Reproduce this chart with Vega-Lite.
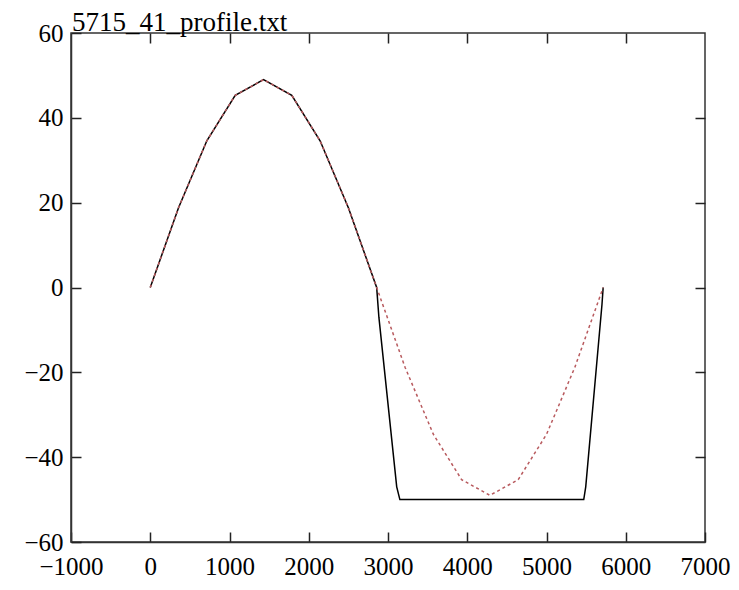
{
  "$schema": "https://vega.github.io/schema/vega-lite/v6.json",
  "width": 634,
  "height": 509,
  "autosize": {"type": "none"},
  "padding": {"left": 71, "top": 33, "right": 34, "bottom": 48},
  "background": "white",
  "title": {"text": "5715_41_profile.txt", "anchor": "start", "frame": "group", "font": "Liberation Serif", "fontSize": 27, "fontWeight": "normal", "color": "black", "baseline": "alphabetic", "offset": -37, "dx": 1},
  "config": {
    "view": {"stroke": "#333", "strokeWidth": 1.5},
    "axis": {
      "labelFont": "Liberation Serif",
      "labelFontSize": 25,
      "labelColor": "black",
      "tickColor": "#222",
      "tickWidth": 1.5,
      "tickSize": -10,
      "domainColor": "#333",
      "domainWidth": 1.5,
      "grid": false,
      "title": null,
      "format": "d",
      "labelFlush": false,
      "labelOverlap": false
    }
  },
  "datasets": {
    "ideal": [
      {"x": 0, "y": 0}, {"x": 357, "y": 18.8}, {"x": 714, "y": 34.6}, {"x": 1072, "y": 45.3},
      {"x": 1429, "y": 49}, {"x": 1786, "y": 45.3}, {"x": 2143, "y": 34.6}, {"x": 2500, "y": 18.8},
      {"x": 2857, "y": 0}, {"x": 3215, "y": -18.8}, {"x": 3572, "y": -34.6}, {"x": 3929, "y": -45.3},
      {"x": 4286, "y": -49}, {"x": 4643, "y": -45.3}, {"x": 5001, "y": -34.6}, {"x": 5358, "y": -18.8},
      {"x": 5715, "y": 0}
    ],
    "profile": [
      {"x": 0, "y": 0}, {"x": 357, "y": 18.8}, {"x": 714, "y": 34.6}, {"x": 1072, "y": 45.3},
      {"x": 1429, "y": 49}, {"x": 1786, "y": 45.3}, {"x": 2143, "y": 34.6}, {"x": 2500, "y": 18.8},
      {"x": 2857, "y": 0}, {"x": 2885, "y": -7}, {"x": 3110, "y": -47}, {"x": 3150, "y": -50},
      {"x": 5470, "y": -50}, {"x": 5495, "y": -47}, {"x": 5700, "y": -4}, {"x": 5715, "y": 0}
    ]
  },
  "layer": [
    {
      "data": {"name": "profile"},
      "mark": {"type": "line", "color": "black", "strokeWidth": 1.5},
      "encoding": {
        "x": {"field": "x", "type": "quantitative", "scale": {"domain": [-1000, 7000], "nice": false, "zero": false},
              "axis": {"orient": "top", "labels": false, "domain": false, "values": [0, 1000, 2000, 3000, 4000, 5000, 6000]}},
        "y": {"field": "y", "type": "quantitative", "scale": {"domain": [-60, 60], "nice": false, "zero": false},
              "axis": {"orient": "right", "labels": false, "domain": false, "values": [-40, -20, 0, 20, 40]}}
      }
    },
    {
      "data": {"name": "ideal"},
      "mark": {"type": "line", "color": "#b85a5e", "strokeWidth": 1.5, "strokeDash": [3, 3]},
      "encoding": {
        "x": {"field": "x", "type": "quantitative",
              "axis": {"orient": "bottom", "values": [-1000, 0, 1000, 2000, 3000, 4000, 5000, 6000, 7000], "labelPadding": 22}},
        "y": {"field": "y", "type": "quantitative",
              "axis": {"orient": "left", "values": [-60, -40, -20, 0, 20, 40, 60], "labelPadding": 18}}
      }
    }
  ]
}
